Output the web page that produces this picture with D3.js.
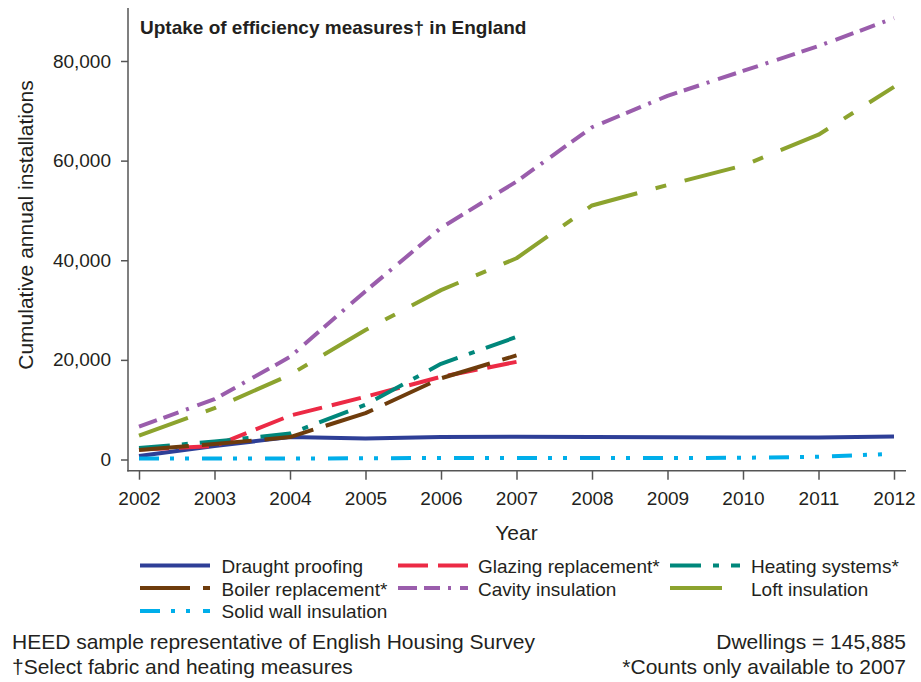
<!DOCTYPE html>
<html><head><meta charset="utf-8">
<script src="https://cdn.jsdelivr.net/npm/d3@7"></script>
<style>
body{margin:0;background:#fff}
svg{display:block}
text{font-family:"Liberation Sans",Arial,Helvetica,sans-serif;fill:#231f20}
</style>
</head><body>
<svg id="chart" width="921" height="682"></svg>
<script>
// ---- data ----
const years = [2002,2003,2004,2005,2006,2007,2008,2009,2010,2011,2012];
const draughtProofing   = [700,2700,4500,4200,4500,4550,4500,4450,4400,4400,4600];
const glazingReplacement = [2000,2700,8800,12600,16600,19600];
const heatingSystems     = [2300,3600,5200,11000,19200,24600];
const boilerReplacement  = [1900,3100,4500,9300,16300,20900];
const cavityInsulation   = [6600,12100,20600,33800,46500,55800,66700,73000,78000,83000,88600];
const loftInsulation     = [4800,10300,17000,26000,34000,40400,51000,55100,59000,65200,74800];
const solidWallInsulation = [200,200,200,250,300,300,300,300,350,550,1150];
const seriesNames = ["Draught proofing","Glazing replacement*","Heating systems*","Boiler replacement*","Cavity insulation","Loft insulation","Solid wall insulation"];
const yTickValues = [0,20000,40000,60000,80000];
const xTickValues = years;
const titleText = "Uptake of efficiency measures\u2020 in England";
const xTitle = "Year";
const yTitle = "Cumulative annual installations";
const noteLeft = ["HEED sample representative of English Housing Survey","\u2020Select fabric and heating measures"];
const noteRight = ["Dwellings = 145,885","*Counts only available to 2007"];

// ---- styles ----
const styles = [
  {color:"#2e3f97", dash:null},
  {color:"#ec2a45", dash:"30,10"},
  {color:"#00877b", dash:"31,12,6,12"},
  {color:"#6e3c0c", dash:"50,13"},
  {color:"#9a5dac", dash:"19,7,16,8,3,9"},
  {color:"#8ca32e", dash:"52,19,11,19"},
  {color:"#00aeea", dash:"20,11,4,11,4,13"}
];
const seriesData = [draughtProofing,glazingReplacement,heatingSystems,boilerReplacement,cavityInsulation,loftInsulation,solidWallInsulation];

const svg = d3.select("#chart");
const x = d3.scaleLinear().domain([2002,2012]).range([139,894]);
const y = d3.scaleLinear().domain([0,80000]).range([459.5,61]);
const axisColor = "#555";

// axes
const gy = svg.append("g").attr("transform","translate(128,0)")
  .call(d3.axisLeft(y).tickValues(yTickValues).tickSize(7).tickPadding(10).tickFormat(d3.format(",")));
gy.select(".domain").remove();
gy.selectAll(".tick line").attr("stroke",axisColor).attr("stroke-width",1.5);
gy.selectAll(".tick text").style("font-size","19px").attr("fill","#231f20").style("font-family",'"Liberation Sans",Arial,sans-serif');
svg.append("line").attr("x1",128).attr("x2",128).attr("y1",8).attr("y2",471.5).attr("stroke",axisColor).attr("stroke-width",1.5);

const gx = svg.append("g").attr("transform","translate(0,470.7)")
  .call(d3.axisBottom(x).tickValues(xTickValues).tickSize(9).tickPadding(12).tickFormat(d3.format("d")));
gx.select(".domain").remove();
gx.selectAll(".tick line").attr("stroke",axisColor).attr("stroke-width",1.5);
gx.selectAll(".tick text").style("font-size","19px").attr("fill","#231f20").style("font-family",'"Liberation Sans",Arial,sans-serif');
svg.append("line").attr("x1",127.25).attr("x2",906).attr("y1",470.7).attr("y2",470.7).attr("stroke",axisColor).attr("stroke-width",1.5);

// lines
const line = d3.line().x((d,i)=>x(years[i])).y(d=>y(d));
seriesData.forEach((s,k)=>{
  svg.append("path").datum(s).attr("d",line)
    .attr("fill","none").attr("stroke",styles[k].color).attr("stroke-width",4)
    .attr("stroke-dasharray",styles[k].dash).attr("stroke-linejoin","round");
});

// title
svg.append("text").attr("x",140).attr("y",34).style("font-size","19px").style("font-weight","bold").text(titleText);
// axis titles
svg.append("text").attr("x",516.5).attr("y",540).attr("text-anchor","middle").style("font-size","21px").text(xTitle);
svg.append("text").attr("transform","translate(33,225) rotate(-90)").attr("text-anchor","middle").style("font-size","21px").text(yTitle);

// legend
const colKeyX = [140,398,670];
const keyLen = 70;
const colTextX = [221.5,478,751];
const rowKeyY = [565.5,588,611];
const rowTextY = [573,596,618];
seriesNames.forEach((name,k)=>{
  const c = k%3, r = Math.floor(k/3);
  svg.append("line").attr("x1",colKeyX[c]).attr("x2",colKeyX[c]+keyLen).attr("y1",rowKeyY[r]).attr("y2",rowKeyY[r])
    .attr("stroke",styles[k].color).attr("stroke-width",4).attr("stroke-dasharray",styles[k].dash);
  svg.append("text").attr("x",colTextX[c]).attr("y",rowTextY[r]).style("font-size","19px").text(name);
});

// notes
const noteY = [649,674];
noteLeft.forEach((t,i)=>svg.append("text").attr("x",12).attr("y",noteY[i]).style("font-size","21px").text(t));
noteRight.forEach((t,i)=>svg.append("text").attr("x",906).attr("y",noteY[i]).attr("text-anchor","end").style("font-size","21px").text(t));
</script>
</body></html>
